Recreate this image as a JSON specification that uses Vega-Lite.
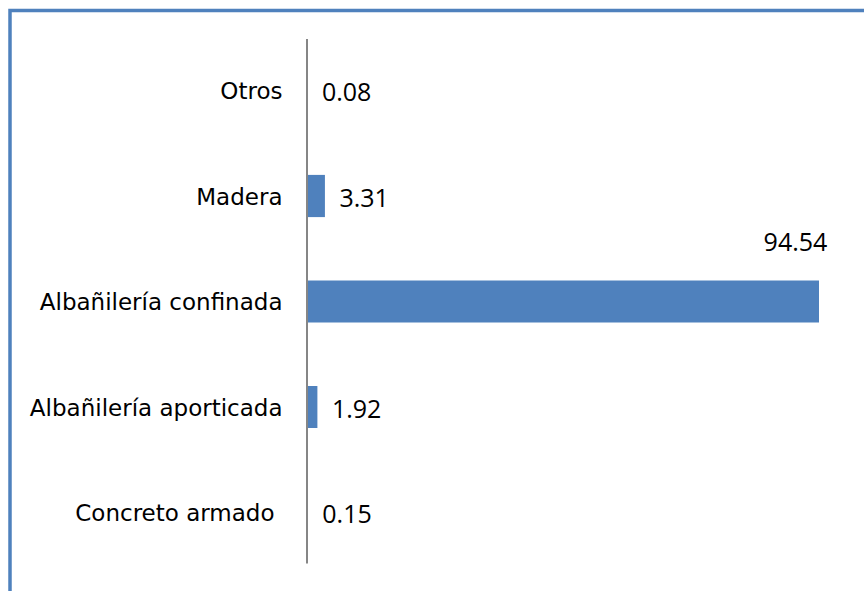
{
  "$schema": "https://vega.github.io/schema/vega-lite/v6.json",
  "autosize": "none",
  "padding": {"left": 10, "top": 10.5, "right": 0, "bottom": 0},
  "width": 880,
  "height": 600,
  "background": "white",
  "config": {
    "view": {"stroke": "#4F81BD", "strokeWidth": 3.5}
  },
  "data": {
    "values": [
      {"material": "Otros", "valor": 0.08},
      {"material": "Madera", "valor": 3.31},
      {"material": "Albañilería confinada", "valor": 94.54},
      {"material": "Albañilería aporticada", "valor": 1.92},
      {"material": "Concreto armado", "valor": 0.15}
    ]
  },
  "layer": [
    {
      "encoding": {
        "x": {"field": "valor", "type": "quantitative", "scale": {"domain": [-54.84, 107.65], "zero": false, "nice": false}, "axis": null},
        "y": {
          "field": "material", "type": "nominal", "sort": null,
          "scale": {"paddingInner": 0.6, "paddingOuter": 0.6436, "align": 0.4337},
          "axis": {
            "title": null, "orient": "left", "offset": -297, "domain": false, "ticks": false, "tickSize": 0,
            "labelPadding": {"condition": {"test": "datum.value == 'Concreto armado'", "value": 33}, "value": 25},
            "labelOffset": 2, "labelFont": "DejaVu Sans", "labelFontSize": 23, "labelColor": "#000000", "labelLimit": 0
          }
        }
      },
      "layer": [
        {
          "mark": {"type": "bar", "color": "#4F81BD"}
        },
        {
          "transform": [{"filter": "datum.valor < 50"}],
          "mark": {"type": "text", "align": "left", "baseline": "middle", "dx": 14.5, "dy": 3, "font": "Open Sans", "fontSize": 25, "color": "#000000"},
          "encoding": {
            "text": {"field": "valor", "type": "quantitative", "format": ".2f"}
          }
        },
        {
          "transform": [{"filter": "datum.valor >= 50"}],
          "mark": {"type": "text", "align": "center", "baseline": "middle", "dx": -23.5, "dy": -58, "font": "Open Sans", "fontSize": 25, "color": "#000000"},
          "encoding": {
            "text": {"field": "valor", "type": "quantitative", "format": ".2f"}
          }
        }
      ]
    },
    {
      "data": {"values": [{}]},
      "mark": {"type": "rule", "color": "#868686", "strokeWidth": 2},
      "encoding": {
        "x": {"datum": 0, "type": "quantitative"},
        "y": {"datum": 0.0783, "type": "quantitative", "scale": {"domain": [0, 1], "nice": false, "zero": false}, "axis": null},
        "y2": {"datum": 0.9525}
      }
    }
  ],
  "resolve": {"scale": {"y": "independent"}, "axis": {"y": "independent"}}
}
